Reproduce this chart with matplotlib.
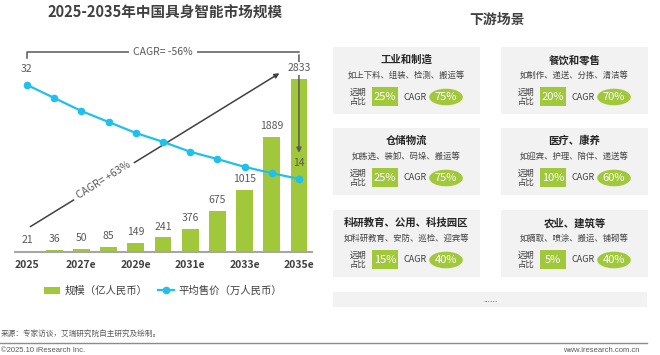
import matplotlib.pyplot as plt
from matplotlib.patches import Rectangle, Ellipse

plt.rcParams['font.family'] = ['Noto Sans CJK SC', 'DejaVu Sans']

# data
years = ['2025', '2026e', '2027e', '2028e', '2029e', '2030e',
         '2031e', '2032e', '2033e', '2034e', '2035e']
market = [21, 36, 50, 85, 149, 241, 376, 675, 1015, 1889, 2833]      # 亿人民币
price = [32, 29.5, 27.0, 24.9, 22.8, 21.1, 19.2, 17.8, 16.3, 15.1, 14]  # 万人民币

scenes = ['工业和制造', '餐饮和零售', '仓储物流', '医疗、康养', '科研教育、公用、科技园区', '农业、建筑等']
examples = ['如上下料、组装、检测、搬运等', '如制作、递送、分拣、清洁等', '如拣选、装卸、码垛、搬运等',
            '如迎宾、护理、陪伴、递送等', '如科研教育、安防、巡检、迎宾等', '如摘取、喷涂、搬运、铺砌等']
shares = ['25%', '20%', '25%', '10%', '15%', '5%']
cagrs = ['75%', '70%', '75%', '60%', '40%', '40%']

GREEN = '#A0C83A'
CYAN = '#1FC1EC'
DARK = '#404040'
GRAY = '#595959'

W, H = 660, 355
fig = plt.figure(figsize=(W / 100, H / 100), dpi=100)

# overlay in pixel coordinates for the right panel and footer
ov = fig.add_axes([0, 0, 1, 1], zorder=-1)
ov.set_xlim(0, W)
ov.set_ylim(H, 0)
ov.axis('off')

# ---- left chart ----
ax = fig.add_axes([15 / W, 1 - 252 / H, 297 / W, 212 / H])
x = list(range(len(years)))
bars = ax.bar(x, market, width=0.62, color=GREEN, zorder=2)
ax.set_xlim(-0.44, 10.48)
ax.set_ylim(0, 3472)
ax.set_xticks(x[::2])
ax.set_xticklabels(years[::2], fontsize=7.5, color=DARK, fontweight='bold')
ax.tick_params(axis='x', length=0, pad=6)
ax.set_yticks([])
for s in ['top', 'right', 'left']:
    ax.spines[s].set_visible(False)
ax.spines['bottom'].set_color('#A6A6A6')
ax.spines['bottom'].set_linewidth(1.5)
ax.patch.set_alpha(0)

ax2 = ax.twinx()
ln, = ax2.plot(x, price, color=CYAN, lw=1.6, marker='o', ms=4.5, zorder=3)
ax2.set_ylim(0, 40.6)
ax2.axis('off')
ax2.annotate(str(price[0]), (x[0], price[0]), xytext=(0, 8), textcoords='offset points',
             ha='center', va='bottom', fontsize=7.5, color=GRAY)
ax2.annotate(str(price[-1]), (x[-1], price[-1]), xytext=(0, 8), textcoords='offset points',
             ha='center', va='bottom', fontsize=7.5, color=GRAY)

# bar value labels (drawn on top so the bracket line hides behind the last one)
for xi, v in zip(x, market):
    t = ax2.annotate(str(v), (xi, v / 3472 * 40.6), xytext=(0, 4), textcoords='offset points',
                     ha='center', va='bottom', fontsize=7.5, color=GRAY, zorder=6)
    if v == market[-1]:
        t.set_bbox(dict(facecolor='white', edgecolor='none', pad=1))

# CAGR bracket for price
tr = ('data', 'axes fraction')
ax2.plot([x[0], x[0], x[-1]], [0.915 * 40.6, 0.943 * 40.6, 0.943 * 40.6], color=GRAY, lw=1.1, zorder=4)
ax2.annotate('', xy=(x[-1], 0.455), xycoords=tr, xytext=(x[-1], 0.943), textcoords=tr,
             arrowprops=dict(arrowstyle='-|>', color=GRAY, lw=1.1, mutation_scale=7), zorder=4)
ax2.text(5, 0.943 * 40.6, 'CAGR= -56%', ha='center', va='center', fontsize=7.5, color=GRAY,
         bbox=dict(facecolor='white', edgecolor='none', pad=3), zorder=5)

# CAGR arrow for market
ax2.annotate('', xy=(9.37, 0.85), xycoords=tr, xytext=(0.04, 0.113), textcoords=tr,
             arrowprops=dict(arrowstyle='-|>', color='#404040', lw=1.1, mutation_scale=7), zorder=2)
ax2.text(2.8, 0.34 * 40.6, 'CAGR= +63%', ha='center', va='center', fontsize=7.5, color=GRAY,
         rotation=32, rotation_mode='anchor',
         bbox=dict(facecolor='white', edgecolor='none', pad=3), zorder=2.5)

fig.legend([bars, ln], ['规模（亿人民币）', '平均售价（万人民币）'], loc='center',
           bbox_to_anchor=(163 / W, 1 - 291 / H), ncol=2, frameon=False, fontsize=7.5,
           handlelength=1.6, handleheight=0.8, columnspacing=1.0, handletextpad=0.4,
           labelcolor=DARK)

fig.text(165 / W, 1 - 13 / H, '2025-2035年中国具身智能市场规模', ha='center', va='center',
         fontsize=10.5, fontweight='bold', color=DARK)

# ---- right panel ----
ov.text(497, 20, '下游场景', ha='center', va='center', fontsize=10, fontweight='bold', color=DARK)
col_x = [333, 501]
row_y = [47, 128, 210]
bw, bh = 147, 67
for i in range(len(scenes)):
    x0 = col_x[i % 2]
    y0 = row_y[i // 2]
    ov.add_patch(Rectangle((x0, y0), bw, bh, facecolor='#F2F2F2', edgecolor='none'))
    ov.text(x0 + bw / 2, y0 + 13, scenes[i], ha='center', va='center', fontsize=7.5,
            fontweight='bold', color='#262626')
    ov.text(x0 + bw / 2, y0 + 28, examples[i], ha='center', va='center', fontsize=6, color=DARK)
    ov.text(x0 + 25, y0 + 50, '远期\n占比', ha='center', va='center', fontsize=6,
            color=DARK, linespacing=1.1)
    ov.add_patch(Rectangle((x0 + 39, y0 + 40), 26, 19, facecolor=GREEN, edgecolor='none'))
    ov.text(x0 + 52, y0 + 50, shares[i], ha='center', va='center', fontsize=8, color='white')
    ov.text(x0 + 82, y0 + 50, 'CAGR', ha='center', va='center', fontsize=6.5, color=DARK)
    ov.add_patch(Ellipse((x0 + 113, y0 + 50), 35, 18, facecolor=GREEN, edgecolor='#F2F2F2'))
    ov.text(x0 + 113, y0 + 50, cagrs[i], ha='center', va='center', fontsize=8, color='white')

ov.add_patch(Rectangle((333, 292), 314, 15, facecolor='#F2F2F2', edgecolor='none'))
ov.text(490, 299, '......', ha='center', va='center', fontsize=6, color=DARK)

# ---- footer ----
ov.text(1, 334, '来源：专家访谈，艾瑞研究院自主研究及绘制。', ha='left', va='center', fontsize=5.5, color=GRAY)
ov.plot([0, 647], [343, 343], color='#8C8C8C', lw=1)
ov.text(1, 350, '©2025.10 iResearch Inc.', ha='left', va='center', fontsize=5.5,
        color=GRAY, family='Liberation Sans')
ov.text(640, 350, 'www.iresearch.com.cn', ha='right', va='center', fontsize=5.5,
        color=GRAY, family='Liberation Sans')

fig.savefig('out.png', dpi=100)
